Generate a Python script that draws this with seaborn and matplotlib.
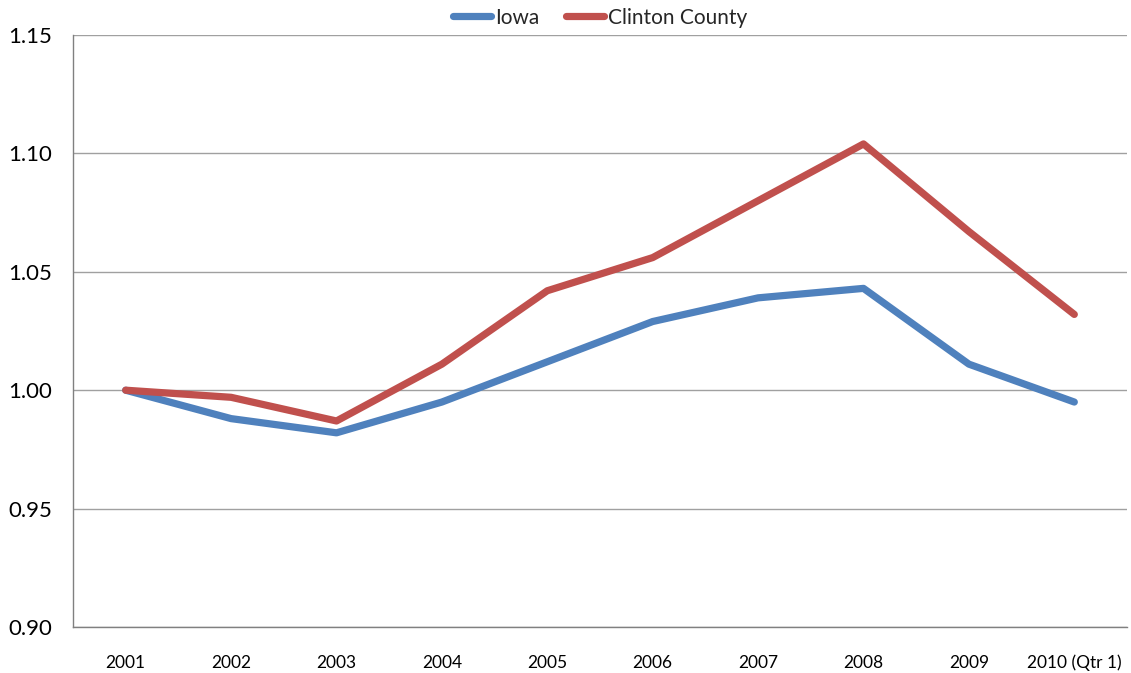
import matplotlib
matplotlib.use("Agg")
import matplotlib.pyplot as plt
import seaborn as sns
import pandas as pd
import numpy as np
from matplotlib.ticker import FixedLocator, MultipleLocator, FormatStrFormatter

years = ["2001", "2002", "2003", "2004", "2005", "2006", "2007", "2008", "2009", "2010 (Qtr 1)"]
iowa = [1.000, 0.988, 0.982, 0.995, 1.012, 1.029, 1.039, 1.043, 1.011, 0.995]
clinton = [1.000, 0.997, 0.987, 1.011, 1.042, 1.056, 1.080, 1.104, 1.067, 1.032]
series_names = ["Iowa", "Clinton County"]
colors = ["#4F81BD", "#C0504D"]

sns.set_theme(style="white")
plt.rcParams['font.family'] = ['Lato', 'DejaVu Sans']

df = pd.DataFrame({
    "pos": list(range(len(years))) * 2,
    "value": iowa + clinton,
    "series": [series_names[0]] * len(years) + [series_names[1]] * len(years),
})

fig = plt.figure(figsize=(11.31, 6.73), dpi=100)
ax = fig.add_axes([73 / 1131, 46 / 673, (1127 - 73) / 1131, (627 - 35) / 673])

sns.lineplot(data=df, x="pos", y="value", hue="series", palette=colors,
             hue_order=series_names, linewidth=5.2, ax=ax, legend=True,
             solid_capstyle="round")

ax.set_xlim(-0.5, len(years) - 0.5)
ax.set_ylim(0.90, 1.15)
ax.yaxis.set_major_locator(MultipleLocator(0.05))
ax.yaxis.set_major_formatter(FormatStrFormatter("%.2f"))
ax.grid(axis="y", color="#A0A0A0", linewidth=1)
ax.set_axisbelow(True)

ax.set_xticks(range(len(years)))
ax.set_xticklabels(years, fontsize=12.5, color="#000000")
ax.tick_params(axis="x", which="major", length=0, pad=20)
ax.xaxis.set_minor_locator(FixedLocator(np.arange(-0.5, len(years), 1.0)))
ax.tick_params(axis="x", which="minor", length=5, color="#808080", width=1, direction="out")
ax.tick_params(axis="y", which="major", length=6, color="#808080", width=1,
               labelsize=16, labelcolor="#000000", pad=9, direction="out")

for s in ["top", "right"]:
    ax.spines[s].set_visible(False)
for s in ["left", "bottom"]:
    ax.spines[s].set_color("#808080")
    ax.spines[s].set_linewidth(1)

ax.set_xlabel("")
ax.set_ylabel("")

leg = ax.legend(loc="lower center", bbox_to_anchor=(0.5, 1.0), ncol=2, frameon=False,
                fontsize=15, handlelength=1.8, handletextpad=0.2, columnspacing=1.3,
                borderaxespad=0.0, borderpad=0.35)
for line in leg.get_lines():
    line.set_linewidth(5.2)
    line.set_solid_capstyle("round")

fig.savefig("out.png", dpi=100)
